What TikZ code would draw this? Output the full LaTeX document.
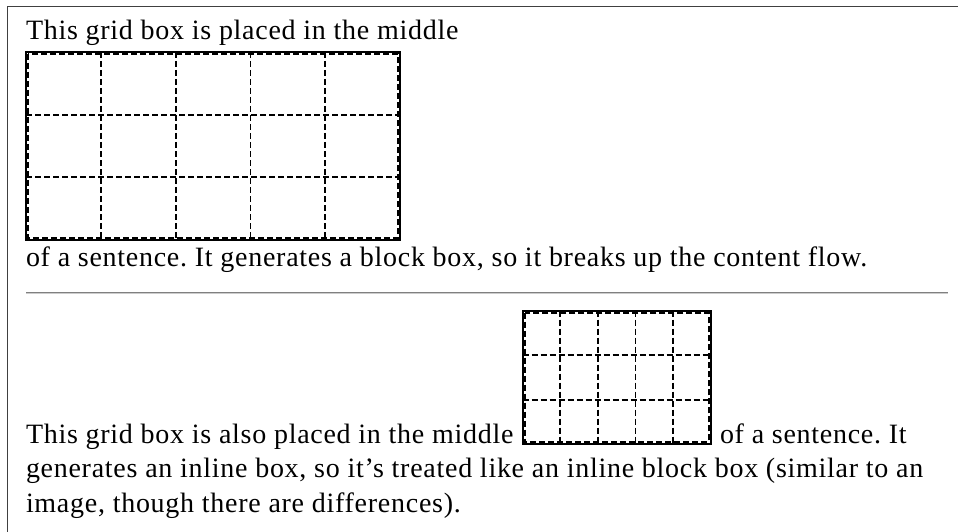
\documentclass[tikz,border=0pt]{standalone}
\usepackage{fontspec}
\setmainfont[LetterSpace=2.6]{Liberation Serif}
\frenchspacing
\begin{document}
\begin{tikzpicture}[x=1pt,y=-1pt,
  txt/.style={anchor=base west,inner sep=0pt,outer sep=0pt,font=\fontsize{28}{33}\selectfont},
  gridouter/.style={draw=black,line width=2.2pt},
  gridcell/.style={draw=black,line width=1.8pt,dash pattern=on 6pt off 3pt},
  frameline/.style={draw=black!75,line width=1pt},
]
\useasboundingbox (0,0) rectangle (958,532);
% outer frame
\draw[frameline] (7,532) -- (7,7) -- (958,7);

% first block
\node[txt] (t1) at (26,40) {This grid box is placed in the middle};
\coordinate (g1a) at (26,52);
\coordinate (g1b) at (400,240);
\foreach \cx in {100.8,175.6,250.4,325.2}
  \draw[gridcell] (\cx,52) -- (\cx,240);
\foreach \ry in {114.7,177.3}
  \draw[gridcell] (26,\ry) -- (400,\ry);
\draw[gridcell] (28,54) rectangle (398,238);
\draw[gridouter] (g1a) rectangle (g1b);
\node[txt] (t2) at (26,266.7) {of a sentence. It generates a block box, so it breaks up the content flow.};

% rule
\coordinate (hra) at (26,292.5);
\coordinate (hrb) at (948,292.5);
\draw[draw=black!50,line width=1pt] (hra) -- (hrb);
\draw[draw=black!20,line width=1pt] ([yshift=-1pt]hra) -- ([yshift=-1pt]hrb);

% second block
\node[txt] (t3) at (26,443) {This grid box is also placed in the middle};
\coordinate (g2a) at (522.7,310.7);
\coordinate (g2b) at (710.7,444);
\foreach \cx in {560.3,597.9,635.5,673.1}
  \draw[gridcell] (\cx,310.7) -- (\cx,444);
\foreach \ry in {355.1,399.6}
  \draw[gridcell] (522.7,\ry) -- (710.7,\ry);
\draw[gridcell] (524.7,312.7) rectangle (708.7,442);
\draw[gridouter] (g2a) rectangle (g2b);
\node[txt] (t4) at (720,443) {of a sentence. It};
\node[txt] (t5) at (26,477.5) {generates an inline box, so it’s treated like an inline block box (similar to an};
\node[txt] (t6) at (26,512) {image, though there are differences).};
\end{tikzpicture}
\end{document}
